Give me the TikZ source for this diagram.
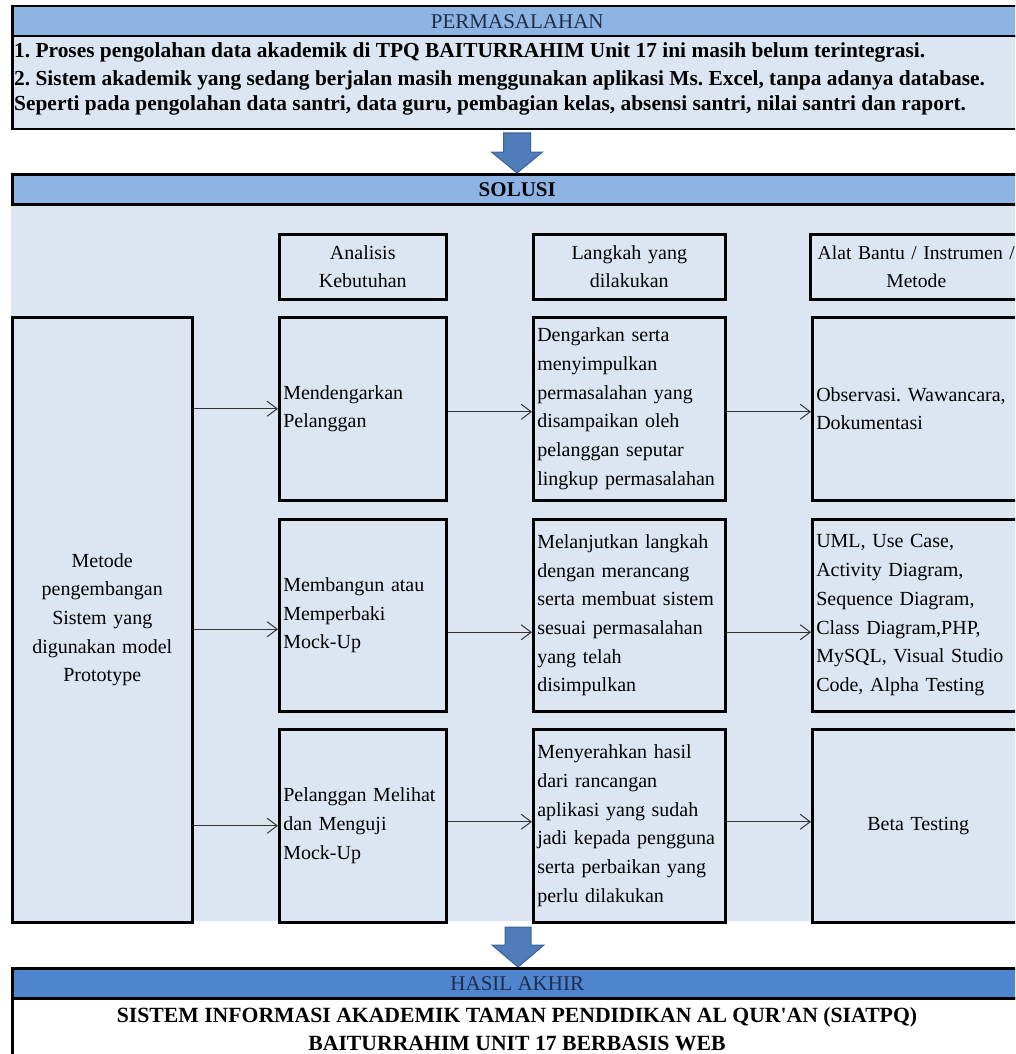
\documentclass[tikz,border=0pt]{standalone}
\usepackage{fontspec}
\setmainfont{Liberation Serif}
\usetikzlibrary{arrows.meta,calc}
\frenchspacing
\definecolor{bandblue}{HTML}{8DB4E2}
\definecolor{bodyblue}{HTML}{DCE6F2}
\definecolor{darkband}{HTML}{4F85CF}
\definecolor{navy}{HTML}{1F2D4A}
\definecolor{arrowfill}{HTML}{4F7DBA}
\definecolor{arrowedge}{HTML}{3A6296}
\definecolor{inkgray}{HTML}{333333}
\tikzset{
  band/.style={draw=black, line width=2.5pt, fill=bandblue, anchor=north west, minimum width=1010, minimum height=30, inner sep=0pt, text=navy, font=\fontsize{21}{25}\selectfont},
  panel/.style={draw=black, line width=2.5pt, fill=bodyblue, anchor=north west, inner sep=0pt},
  toptext/.style={anchor=base west, inner sep=0pt, text=black, font=\fontsize{21.4}{25}\selectfont\bfseries},
  cell/.style={draw=black, line width=2.5pt, fill=bodyblue, anchor=north west, inner xsep=4pt, inner ysep=0pt, align=left, text=black, font=\fontsize{20}{28.7}\selectfont},
  headcell/.style={cell, align=center},
  conn/.style={draw=inkgray, line width=1pt, -{Straight Barb[length=10pt,width=15pt,line width=1pt]}},
  blockarrow/.style={fill=arrowfill, draw=arrowedge, line width=1pt, line join=miter},
  bottomtext/.style={anchor=base, inner sep=0pt, font=\fontsize{21.7}{25}\selectfont\bfseries}
}
\begin{document}
\begin{tikzpicture}[x=1pt,y=-1pt]
\useasboundingbox (0,0) rectangle (1015,1054);
\clip (0,0) rectangle (1015,1054);

% PERMASALAHAN
\node[panel, minimum width=1010, minimum height=93] (perm) at (11,35) {};
\node[band] (permh) at (11,5) {PERMASALAHAN};
\node[toptext] (p1) at (14,58) {1. Proses pengolahan data akademik di TPQ BAITURRAHIM Unit 17 ini masih belum terintegrasi.};
\node[toptext] (p2) at (14,86) {2. Sistem akademik yang sedang berjalan masih menggunakan aplikasi Ms. Excel, tanpa adanya database.};
\node[toptext] (p3) at (14,111) {Seperti pada pengolahan data santri, data guru, pembagian kelas, absensi santri, nilai santri dan raport.};

% arrow 1
\draw[blockarrow] (503.5,133) -- (530.5,133) -- (530.5,152) -- (542.5,152) -- (517,173) -- (491.5,152) -- (503.5,152) -- cycle;

% SOLUSI
\node[anchor=north west, fill=bodyblue, minimum width=1010, minimum height=718, inner sep=0pt] (sbody) at (11,203) {};
\node[band, font=\fontsize{21}{25}\selectfont\bfseries, text=black!85!navy] (solh) at (11,173) {SOLUSI};

% column headers
\node[headcell, minimum width=167, minimum height=65, text width=159] (ha) at (278,233) {Analisis\\Kebutuhan};
\node[headcell, minimum width=192, minimum height=65, text width=184] (hb) at (532,233) {Langkah yang\\dilakukan};
\node[headcell, minimum width=212, minimum height=65, text width=204, font=\fontsize{19.6}{28.7}\selectfont] (hc) at (809,233) {Alat Bantu / Instrumen /\\Metode};

% left box
\node[headcell, minimum width=180, minimum height=605, text width=172] (L) at (11,316) {Metode\\pengembangan\\Sistem yang\\digunakan model\\Prototype};

% row 1
\node[cell, minimum width=167, minimum height=183, text width=159] (a1) at (278,316) {Mendengarkan\\Pelanggan};
\node[cell, minimum width=192, minimum height=183, text width=184] (b1) at (532,316) {Dengarkan serta\\menyimpulkan\\permasalahan yang\\disampaikan oleh\\pelanggan seputar\\lingkup permasalahan};
\node[cell, minimum width=212, minimum height=183, text width=204] (c1) at (811,316) {Observasi. Wawancara,\\Dokumentasi};

% row 2
\node[cell, minimum width=167, minimum height=192, text width=159] (a2) at (278,518) {Membangun atau\\Memperbaki\\Mock-Up};
\node[cell, minimum width=192, minimum height=192, text width=184] (b2) at (532,518) {Melanjutkan langkah\\dengan merancang\\serta membuat sistem\\sesuai permasalahan\\yang telah\\disimpulkan};
\node[cell, minimum width=212, minimum height=192, text width=204] (c2) at (811,518) {UML, Use Case,\\Activity Diagram,\\Sequence Diagram,\\Class Diagram,PHP,\\MySQL, Visual Studio\\Code, Alpha Testing};

% row 3
\node[cell, minimum width=167, minimum height=193, text width=159] (a3) at (278,728) {Pelanggan Melihat\\dan Menguji\\Mock-Up};
\node[cell, minimum width=192, minimum height=193, text width=184] (b3) at (532,728) {Menyerahkan hasil\\dari rancangan\\aplikasi yang sudah\\jadi kepada pengguna\\serta perbaikan yang\\perlu dilakukan};
\node[headcell, minimum width=212, minimum height=193, text width=204] (c3) at (811,728) {Beta Testing};

% connectors row 1
\draw[conn] (L.east |- a1.west) -- (a1.west);
\draw[conn] ([yshift=-3pt]a1.east) -- ([yshift=-3pt]b1.west);
\draw[conn] ([yshift=-3pt]b1.east) -- ([yshift=-3pt]c1.west);
% row 2
\coordinate (r2) at ([yshift=-14pt]a2.west);
\draw[conn] (L.east |- r2) -- (r2);
\draw[conn] ([yshift=-17pt]a2.east) -- ([yshift=-17pt]b2.west);
\draw[conn] ([yshift=-17pt]b2.east) -- ([yshift=-17pt]c2.west);
% row 3
\draw[conn] (L.east |- a3.west) -- (a3.west);
\draw[conn] ([yshift=4pt]a3.east) -- ([yshift=4pt]b3.west);
\draw[conn] ([yshift=4pt]b3.east) -- ([yshift=4pt]c3.west);

% arrow 2
\draw[blockarrow] (505,927) -- (531,927) -- (531,945) -- (544,945) -- (518,967) -- (492,945) -- (505,945) -- cycle;

% HASIL AKHIR
\node[panel, fill=white, minimum width=1010, minimum height=80] (hasil) at (11,997) {};
\node[band, fill=darkband] (hasilh) at (11,967) {HASIL AKHIR};
\node[bottomtext] (h1) at (517,1022) {SISTEM INFORMASI AKADEMIK TAMAN PENDIDIKAN AL QUR\textquotesingle AN (SIATPQ)};
\node[bottomtext] (h2) at (517,1050) {BAITURRAHIM UNIT 17 BERBASIS WEB};
\end{tikzpicture}
\end{document}
